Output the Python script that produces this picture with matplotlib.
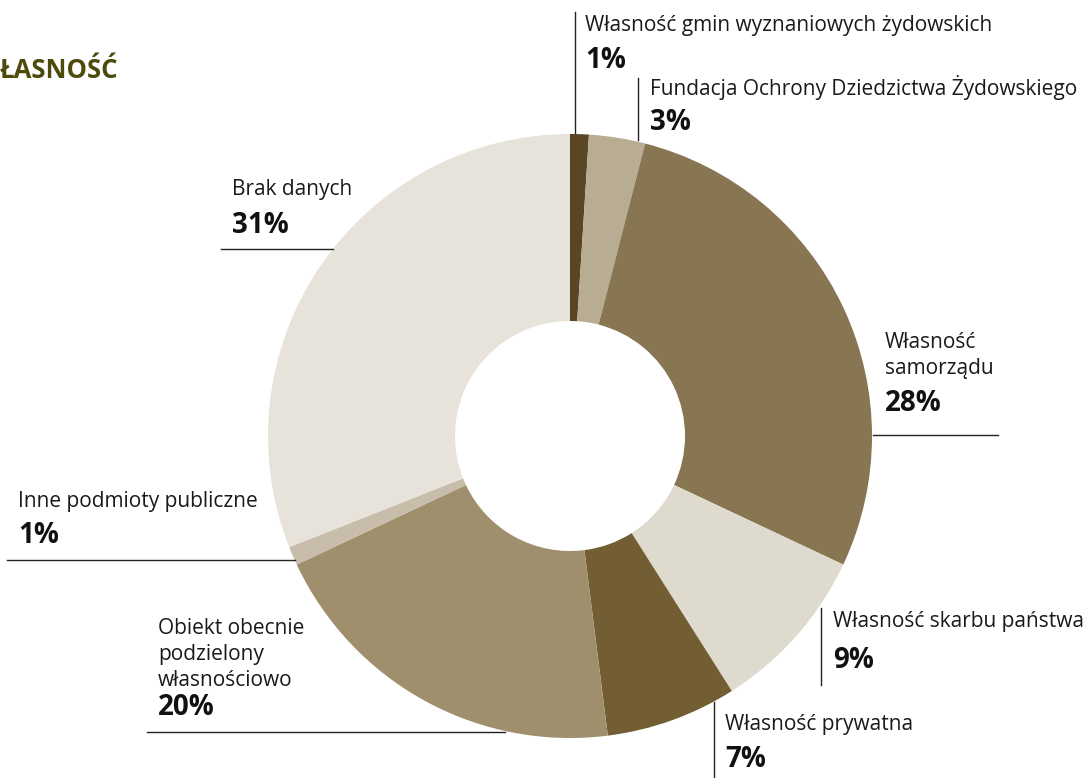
import matplotlib.pyplot as plt

plt.rcParams['font.family'] = ['Open Sans', 'DejaVu Sans']

# dane
labels = ['Własność gmin wyznaniowych żydowskich',
          'Fundacja Ochrony Dziedzictwa Żydowskiego',
          'Własność\nsamorządu',
          'Własność skarbu państwa',
          'Własność prywatna',
          'Obiekt obecnie\npodzielony\nwłasnościowo',
          'Inne podmioty publiczne',
          'Brak danych']
values = [1, 3, 28, 9, 7, 20, 1, 31]
colors = ['#5a4524', '#b8ad93', '#877651', '#dedacd',
          '#735d33', '#9f8f6c', '#c7bdaa', '#e8e3da']

W, H = 1086, 778
fig = plt.figure(figsize=(W / 100, H / 100), dpi=100)
ax = fig.add_axes([0, 0, 1, 1])

cx, cy, r_out, r_in = 570, H - 436, 302, 115
ax.pie(values, colors=colors, radius=r_out, center=(cx, cy),
       startangle=90, counterclock=False,
       wedgeprops=dict(width=r_out - r_in, linewidth=0))
ax.set_xlim(0, W)
ax.set_ylim(0, H)
ax.set_aspect('equal')
ax.axis('off')

# pozycje etykiet w pikselach (od góry): x tekstu, baseline ostatniej linii, baseline procentu
lab_pos = [(585, 31, 68), (650, 95, 130), (885, 374, 411), (833, 627, 668),
           (725, 730, 767), (158, 686, 715), (18, 507, 543), (232, 195, 233)]
# linie odniesienia: (x0, y0, x1, y1) w pikselach od góry
leader = [(575, 12, 575, 133), (638, 78, 638, 140), (873, 435, 998, 435),
          (821, 608, 821, 685), (714, 702, 714, 778), (147, 732, 505, 732),
          (7, 560, 295, 560), (221, 249, 333, 249)]

for lab, v, (tx, ly, py), (x0, y0, x1, y1) in zip(labels, values, lab_pos, leader):
    ax.text(tx, H - ly, lab, fontsize=15, color='#1a1a1a', va='baseline',
            ha='left', linespacing=1.3)
    ax.text(tx, H - py, f'{v}%', fontsize=20, fontweight='bold',
            color='#111111', va='baseline', ha='left')
    ax.plot([x0, x1], [H - y0, H - y1], color='#222222', lw=1)

fig.text(0, 1 - 78 / H, 'ŁASNOŚĆ', fontsize=18.5, fontweight='bold',
         color='#4d4a0c', ha='left', va='baseline')

fig.savefig('out.png', dpi=100)
